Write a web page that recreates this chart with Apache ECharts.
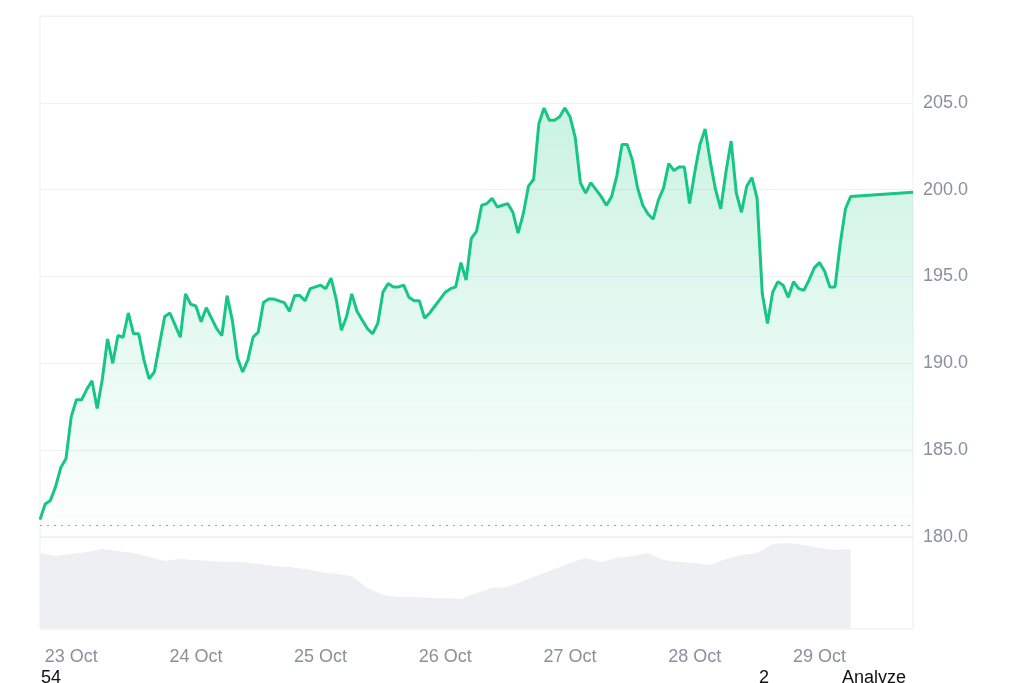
<!DOCTYPE html>
<html>
<head>
<meta charset="utf-8">
<script src="https://cdn.jsdelivr.net/npm/echarts@6/dist/echarts.min.js"></script>
<style>
  html, body { margin: 0; padding: 0; background: #fff; }
  #chart { width: 1024px; height: 683px; }
</style>
</head>
<body>
<div id="chart"></div>
<script>
  const HOUR = 3600 * 1000
  const DAY = 24 * HOUR
  const MONTHS = ['Jan', 'Feb', 'Mar', 'Apr', 'May', 'Jun', 'Jul', 'Aug', 'Sep', 'Oct', 'Nov', 'Dec']

  // hourly prices, first one at 22 Oct 18:00
  const priceStart = Date.UTC(2024, 9, 22, 18)
  const prices = [
    181.0, 181.9, 182.1, 182.9, 184.0, 184.5, 186.9, 187.9, 187.9, 188.5,
    189.0, 187.4, 189.1, 191.4, 190.0, 191.6, 191.5, 192.9, 191.7, 191.7,
    190.2, 189.1, 189.5, 191.1, 192.7, 192.9, 192.2, 191.5, 194.0, 193.4,
    193.3, 192.4, 193.2, 192.6, 192.0, 191.6, 193.9, 192.5, 190.3, 189.5,
    190.2, 191.5, 191.8, 193.5, 193.7, 193.7, 193.6, 193.5, 193.0, 193.9,
    193.9, 193.6, 194.3, 194.4, 194.5, 194.3, 194.9, 193.7, 191.9, 192.7,
    194.0, 193.0, 192.5, 192.0, 191.7, 192.3, 194.1, 194.6, 194.4, 194.4,
    194.5, 193.8, 193.6, 193.6, 192.6, 192.9, 193.3, 193.7, 194.1, 194.3,
    194.4, 195.8, 194.8, 197.2, 197.6, 199.1, 199.2, 199.5, 199.0, 199.1,
    199.2, 198.7, 197.5, 198.6, 200.2, 200.6, 203.8, 204.7, 204.0, 204.0,
    204.2, 204.7, 204.2, 203.0, 200.4, 199.8, 200.4, 200.0, 199.6, 199.1,
    199.6, 200.8, 202.6, 202.6, 201.7, 200.1, 199.1, 198.6, 198.3, 199.4,
    200.1, 201.5, 201.1, 201.3, 201.3, 199.2, 201.0, 202.6, 203.5, 201.6,
    200.0, 198.9, 201.0, 202.8, 199.8, 198.7, 200.2, 200.7, 199.5, 194.0,
    192.3, 194.1, 194.7, 194.5, 193.8, 194.7, 194.3, 194.2, 194.8, 195.5,
    195.8, 195.3, 194.4, 194.4, 196.9, 198.9, 199.6
  ]
  // last quote
  const lastTime = Date.UTC(2024, 9, 29, 18)
  const lastPrice = 199.85
  // dotted reference line (open price)
  const openPrice = 180.65

  // volume, one value every 3 hours from the same start
  const volumeStepHours = 3
  const volumes = [
    76, 73, 75, 77, 80, 78, 76, 72, 68, 70,
    69, 68, 67, 67, 65, 63, 62, 60, 57, 55,
    53, 41, 34, 32, 32, 31, 31, 30, 36, 41,
    42, 48, 54, 60, 66, 71, 67, 71, 73, 76,
    69, 67, 66, 64, 70, 74, 76, 85, 86, 84,
    81, 79, 80
  ]

  const priceMin = 180
  const priceMax = 210
  const priceStep = 5

  let priceData = prices.map((v, i) => [priceStart + i * HOUR, v])
  priceData.push([lastTime, lastPrice])
  let volumeData = volumes.map((v, i) => [priceStart + i * volumeStepHours * HOUR, v])

  const labelColor = '#8a909c'
  const font = "'Liberation Sans', Arial, sans-serif"

  let chart = echarts.init(document.getElementById('chart'))
  chart.setOption({
    animation: false,
    useUTC: true,
    textStyle: { fontFamily: font },
    grid: [
      { left: 40, right: 111, top: 16, height: 521, show: true, borderColor: '#eceef1', borderWidth: 1 },
      { left: 40, right: 111, top: 537, height: 92, show: true, borderColor: '#eceef1', borderWidth: 1 }
    ],
    xAxis: [
      {
        type: 'time', gridIndex: 0, min: priceStart, max: lastTime,
        axisLine: { show: false }, axisTick: { show: false },
        axisLabel: { show: false }, splitLine: { show: false }
      },
      {
        type: 'time', gridIndex: 1, min: priceStart, max: lastTime,
        minInterval: DAY, maxInterval: DAY,
        axisLine: { show: false }, axisTick: { show: false }, splitLine: { show: false },
        axisLabel: {
          color: labelColor, fontSize: 18, margin: 19,
          showMinLabel: false, showMaxLabel: false,
          formatter: function (v) {
            let d = new Date(v)
            return d.getUTCDate() + ' ' + MONTHS[d.getUTCMonth()]
          }
        }
      }
    ],
    yAxis: [
      {
        type: 'value', gridIndex: 0, position: 'right',
        min: priceMin, max: priceMax, interval: priceStep,
        axisLine: { show: false }, axisTick: { show: false },
        axisLabel: {
          color: labelColor, fontSize: 18, margin: 10, showMaxLabel: false,
          formatter: v => v.toFixed(1)
        },
        splitLine: { lineStyle: { color: '#eff1f4', width: 1 } }
      },
      { type: 'value', gridIndex: 1, min: 0, max: 92, show: false }
    ],
    series: [
      {
        type: 'line',
        data: priceData,
        showSymbol: false,
        lineStyle: { color: '#16c784', width: 3 },
        itemStyle: { color: '#16c784' },
        areaStyle: {
          color: new echarts.graphic.LinearGradient(0, 0, 0, 1, [
            { offset: 0, color: 'rgba(22, 199, 132, 0.32)' },
            { offset: 1, color: 'rgba(22, 199, 132, 0.01)' }
          ])
        },
        markLine: {
          silent: true,
          symbol: 'none',
          label: { show: false },
          lineStyle: { type: [2, 5], color: '#9ea3ab', width: 1 },
          data: [{ yAxis: openPrice }]
        }
      },
      {
        type: 'line',
        xAxisIndex: 1,
        yAxisIndex: 1,
        data: volumeData,
        showSymbol: false,
        lineStyle: { width: 0 },
        areaStyle: { color: '#edeff2', opacity: 1 }
      }
    ],
    graphic: [
      { type: 'text', left: 41, top: 669, style: { text: '54', fontSize: 18, fill: '#111', fontFamily: font } },
      { type: 'text', left: 759, top: 669, style: { text: '2', fontSize: 18, fill: '#111', fontFamily: font } },
      { type: 'text', left: 842, top: 669, style: { text: 'Analyze', fontSize: 18, fill: '#111', fontFamily: font } }
    ]
  })
</script>
</body>
</html>
